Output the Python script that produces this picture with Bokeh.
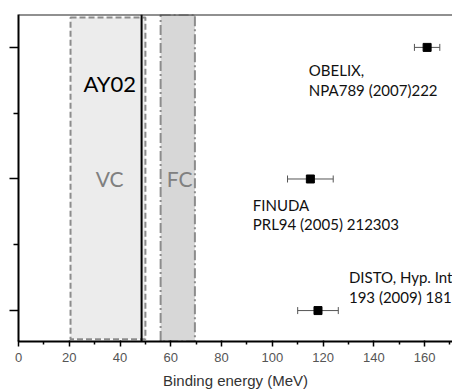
from bokeh.plotting import figure
from bokeh.models import ColumnDataSource, Whisker, TeeHead, Span, Label, FixedTicker, Range1d
from bokeh.embed import file_html
from bokeh.resources import INLINE

# ---- data ----
experiments = ["OBELIX", "FINUDA", "DISTO"]
binding = [161, 115, 118]
binding_err = [5, 9, 8]
ypos = [3, 2, 1]
vc_band = (20.5, 50.0)
fc_band = (56.0, 69.5)
ay02 = 48.5
x_ticks = [0, 20, 40, 60, 80, 100, 120, 140, 160]

XMAX = 171.0
YMIN, YMAX = 0.765, 3.25

p = figure(width=452, height=391, output_backend="svg", toolbar_location=None,
           x_range=Range1d(0, XMAX), y_range=Range1d(YMIN, YMAX),
           min_border_left=18, min_border_top=14, min_border_right=0, min_border_bottom=48)
p.outline_line_color = None
p.grid.visible = False
p.background_fill_color = "white"

# VC band (dashed box)
p.quad(left=[vc_band[0]], right=[vc_band[1]], bottom=[0.782], top=[3.227],
       fill_color="#ececec", line_color="#8c8c8c", line_width=2, line_dash="6 3")
# FC band (dash-dot box)
p.quad(left=[fc_band[0]], right=[fc_band[1]], bottom=[YMIN], top=[YMAX],
       fill_color="#d7d7d7", line_color="#8c8c8c", line_width=2, line_dash="10 3 2 3")
# AY02 line
p.add_layout(Span(location=ay02, dimension="height", line_color="black", line_width=2))
# top frame line
p.add_layout(Span(location=YMAX, dimension="width", line_color="#222222", line_width=2))

lo = [b - e for b, e in zip(binding, binding_err)]
hi = [b + e for b, e in zip(binding, binding_err)]
src = ColumnDataSource(dict(x=binding, y=ypos, lo=lo, hi=hi, name=experiments))
p.add_layout(Whisker(source=src, base="y", lower="lo", upper="hi", dimension="width",
                     line_color="#555555", line_width=1,
                     lower_head=TeeHead(size=7, line_color="#555555", line_width=1),
                     upper_head=TeeHead(size=7, line_color="#555555", line_width=1)))
p.scatter("x", "y", source=src, marker="square", size=8, color="black")

# labels
def lab(x, y, t, size="15px", color="#111111"):
    p.add_layout(Label(x=x, y=y, text=t, text_font="Lato", text_font_size=size,
                       text_color=color, text_baseline="middle", text_align="left"))

lab(25.6, 2.725, "AY02", "22px", "black")
lab(30.4, 2.0, "VC", "21px", "#808080")
lab(58.4, 2.0, "FC", "21px", "#808080")
lab(114.4, 2.828, "OBELIX,")
lab(114.4, 2.678, "NPA789 (2007)222")
lab(92.3, 1.80, "FINUDA")
lab(92.3, 1.656, "PRL94 (2005) 212303")
lab(130.2, 1.254, "DISTO, Hyp. Int.")
lab(130.2, 1.103, "193 (2009) 181")

# x axis
xa = p.xaxis[0]
xa.ticker = FixedTicker(ticks=x_ticks, minor_ticks=[v + 10 for v in x_ticks])
xa.axis_label = "Binding energy (MeV)"
xa.axis_label_text_font = "Liberation Sans"
xa.axis_label_text_font_size = "15px"
xa.axis_label_text_font_style = "normal"
xa.axis_label_text_color = "#333333"
xa.axis_label_standoff = 7
xa.major_label_text_font = "Liberation Sans"
xa.major_label_text_font_size = "13px"
xa.major_label_text_color = "#555555"
xa.major_label_standoff = 6
xa.axis_line_width = 2
xa.axis_line_color = "black"
xa.major_tick_in = 1
xa.major_tick_out = 5
xa.minor_tick_in = 0
xa.minor_tick_out = 3
xa.major_tick_line_width = 1.5
xa.minor_tick_line_width = 1.5

# y axis (ticks only, no labels)
ya = p.yaxis[0]
ya.ticker = FixedTicker(ticks=[1, 2, 3], minor_ticks=[1.5, 2.5])
ya.major_label_overrides = {1: "", 2: "", 3: ""}
ya.major_label_standoff = 0
ya.axis_line_width = 2
ya.axis_line_color = "black"
ya.major_tick_in = 0
ya.major_tick_out = 9
ya.minor_tick_in = 0
ya.minor_tick_out = 5
ya.major_tick_line_width = 1.5
ya.minor_tick_line_width = 1.5

open("out.html", "w").write(file_html(p, INLINE))
